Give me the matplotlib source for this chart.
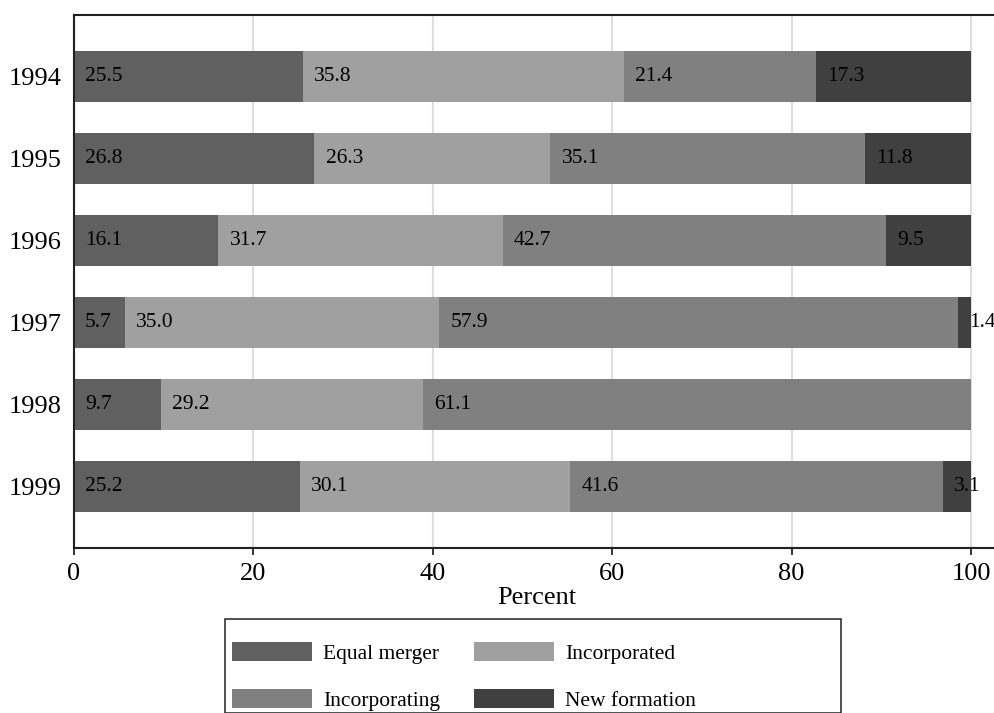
import numpy as np
import matplotlib
matplotlib.use('Agg')
import matplotlib.pyplot as plt
from matplotlib.patches import Rectangle

plt.rcParams['font.family'] = ['Liberation Serif', 'DejaVu Serif']

years = ['1994', '1995', '1996', '1997', '1998', '1999']
equal_merger = [25.5, 26.8, 16.1, 5.7, 9.7, 25.2]
incorporated = [35.8, 26.3, 31.7, 35.0, 29.2, 30.1]
incorporating = [21.4, 35.1, 42.7, 57.9, 61.1, 41.6]
new_formation = [17.3, 11.8, 9.5, 1.4, 0.0, 3.1]

series = [equal_merger, incorporated, incorporating, new_formation]
names = ['Equal merger', 'Incorporated', 'Incorporating', 'New formation']
colors = ['#606060', '#a0a0a0', '#808080', '#404040']

W, H = 994, 713
fig = plt.figure(figsize=(W / 100, H / 100), dpi=100)
# axes in pixel coords: left 74, top 15, bottom 548, right just off the figure
ax = fig.add_axes([74 / W, (H - 548) / H, 926 / W, (548 - 15) / H])

ypos = np.arange(len(years))
left = np.zeros(len(years))
handles = []
for vals, name, col in zip(series, names, colors):
    vals = np.array(vals)
    b = ax.barh(ypos, vals, left=left, height=0.61, color=col, label=name, zorder=2)
    handles.append(b)
    for y, l, v in zip(ypos, left, vals):
        if v > 0:
            ax.annotate(f'{v:.1f}', xy=(l, y), xytext=(8, 0), textcoords='offset points',
                        ha='left', va='center', fontsize=15.5, color='black', zorder=3)
    left = left + vals

ax.set_xlim(0, 926 / 8.97)
ax.set_ylim(len(years) - 0.25, -0.75)
ax.set_yticks(ypos)
ax.set_yticklabels(years)
ax.set_xticks([0, 20, 40, 60, 80, 100])
ax.tick_params(axis='y', length=0, pad=9, labelsize=19)
ax.tick_params(axis='x', length=5, width=1.1, pad=6, labelsize=19, direction='out')
ax.xaxis.grid(True, color='#dedede', linewidth=1.5, zorder=0)
ax.set_axisbelow(True)
ax.set_xlabel('Percent', fontsize=19, labelpad=1)

for s in ['left', 'top', 'bottom']:
    ax.spines[s].set_linewidth(1.5)
    ax.spines[s].set_color('#202020')
ax.spines['right'].set_visible(False)

# legend fills row by row in the reference; matplotlib fills by column
order = [0, 2, 1, 3]
leg = fig.legend(handles=[handles[i] for i in order], labels=[names[i] for i in order],
                 ncol=2, frameon=False,
                 loc='upper left', bbox_to_anchor=(232 / W, 1 - 642 / H),
                 bbox_transform=fig.transFigure, fontsize=15.5,
                 handlelength=3.7, handleheight=1.0, handletextpad=0.55,
                 columnspacing=1.55, labelspacing=1.15, borderpad=0, borderaxespad=0)
fig.patches.append(Rectangle((225 / W, 0), (841 - 225) / W, (H - 633) / H + 0.02,
                             transform=fig.transFigure, fill=False,
                             edgecolor='#202020', linewidth=1.1))

fig.savefig('out.png', dpi=100)
